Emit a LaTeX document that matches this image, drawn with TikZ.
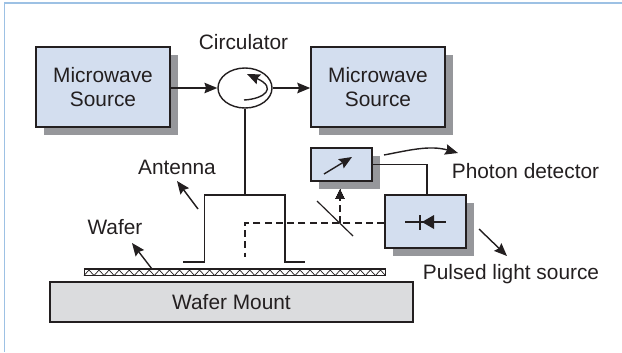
\documentclass[tikz,border=0pt]{standalone}
\usepackage{xcolor}
\usepackage{fontspec}
\setmainfont{Liberation Sans}
\usetikzlibrary{shapes.geometric,shadows,arrows.meta}
\definecolor{boxblue}{HTML}{D3DEEF}
\definecolor{boxgray}{HTML}{96979B}
\definecolor{mountgray}{HTML}{DBDCDE}
\definecolor{framblue}{HTML}{9DC1E4}
\definecolor{inkdark}{HTML}{231F20}
\tikzset{
    srcbox/.style={draw=inkdark,line width=1.4pt,fill=boxblue,inner sep=0pt,align=center,
        drop shadow={shadow xshift=0.23cm,shadow yshift=-0.25cm,opacity=1,fill=boxgray}},
    lbl/.style={inner sep=0pt,text=inkdark,font=\fontsize{17.8}{20.5}\selectfont},
    wire/.style={draw=inkdark,line width=1.2pt},
    dash wire/.style={draw=inkdark,line width=1.3pt,dash pattern=on 6pt off 3.6pt},
    tip/.style={-{Stealth[length=11pt,width=9pt,inset=1.5pt]}}
}
\begin{document}
\begin{tikzpicture}[x=0.03cm,y=-0.03cm]
        \useasboundingbox (0,0) rectangle (622,352);
        % Frame
        \draw[framblue,line width=1.3pt] (4.5,352) -- (4.5,3) -- (622,3);
        % Boxes
        \node[srcbox,lbl,minimum width=4.02cm,minimum height=2.4cm] (srcleft) at (103,87) {Microwave\\Source};
        \node[srcbox,lbl,minimum width=4.02cm,minimum height=2.4cm] (srcright) at (378,87) {Microwave\\Source};
        \node[srcbox,minimum width=1.83cm,minimum height=0.99cm] (detector) at (341.5,164.5) {};
        \node[srcbox,minimum width=2.43cm,minimum height=1.59cm] (pulsed) at (425.5,221.5) {};
        \node[draw=inkdark,line width=1.2pt,ellipse,minimum width=1.62cm,minimum height=1.2cm,inner sep=0pt] (circ) at (245,88) {};
        % Wafer
        \node[draw=inkdark,line width=1.2pt,fill=mountgray,lbl,minimum width=10.89cm,minimum height=1.2cm] (mount) at (231.5,302) {Wafer Mount};
        \node[draw=inkdark,line width=0.7pt,minimum width=9.05cm,minimum height=0.2cm,inner sep=0pt] (wafer) at (235,272.5) {};
        \draw[inkdark,line width=1.4pt] (wafer.north west) -- (wafer.north east);
        \foreach \i in {0,...,29}
            \draw[inkdark,line width=0.6pt] (84+10.05*\i,275.5) -- ++(5,-5.5) -- ++(5,5.5);
        % Labels
        \node[lbl] (lblcirc) at (243.5,42) {Circulator};
        \node[lbl] (lblant) at (177,167) {Antenna};
        \node[lbl] (lblwafer) at (115,227) {Wafer};
        \node[lbl] (lblphoton) at (525.5,171) {Photon detector};
        \node[lbl] (lblpulsed) at (511,274) {Pulsed light source};
        % Waveguide
        \draw[wire,tip] (srcleft.east |- circ.west) -- (circ.west);
        \draw[wire,tip] (circ.east) -- (srcright.west |- circ.east);
        \draw[inkdark,line width=1.2pt,tip] (244,100) .. controls (264,99) and (278,88) .. (247,74);
        % Antenna
        \coordinate (anttop) at (circ.south |- 0,195);
        \coordinate (legleft) at (204.5,262);
        \coordinate (legright) at (285,262);
        \draw[wire] (circ.south) -- (anttop);
        \draw[wire] (183,262) -- (legleft) -- (legleft |- anttop) -- (legright |- anttop) -- (legright) -- (305,262);
        % Optics
        \coordinate (dashcorner) at (245,223);
        \coordinate (dashend) at (245,257);
        \coordinate (split) at (340,223);
        \draw[dash wire] (pulsed.west |- split) -- (dashcorner) -- (dashend);
        \draw[dash wire] (split) -- (340,198);
        \draw[inkdark,fill=inkdark,line width=0pt] (340,189) -- (344.5,198.5) -- (335.5,198.5) -- cycle;
        \draw[wire,line width=1pt] (317,201) -- (353,236);
        \draw[wire] (detector.east) -| (pulsed.north -| 427,0);
        % Detector and diode symbols
        \draw[inkdark,line width=1.2pt,tip] (324,174) -- (352,157);
        \draw[wire] (405,222) -- (446,222);
        \draw[wire] (420,215) -- (420,230);
        \fill[inkdark] (422,222) -- (434,215) -- (434,229) -- cycle;
        % Pointers
        \draw[inkdark,line width=1.2pt,tip] (198,209) -- (177,181);
        \draw[inkdark,line width=1.2pt,tip] (152,269) -- (132,243);
        \draw[inkdark,line width=1.2pt,tip] (479,229) -- (507,256);
        \draw[inkdark,line width=1.2pt,tip] (384,155) .. controls (410,150) and (430,145) .. (458,153);
\end{tikzpicture}
\end{document}
